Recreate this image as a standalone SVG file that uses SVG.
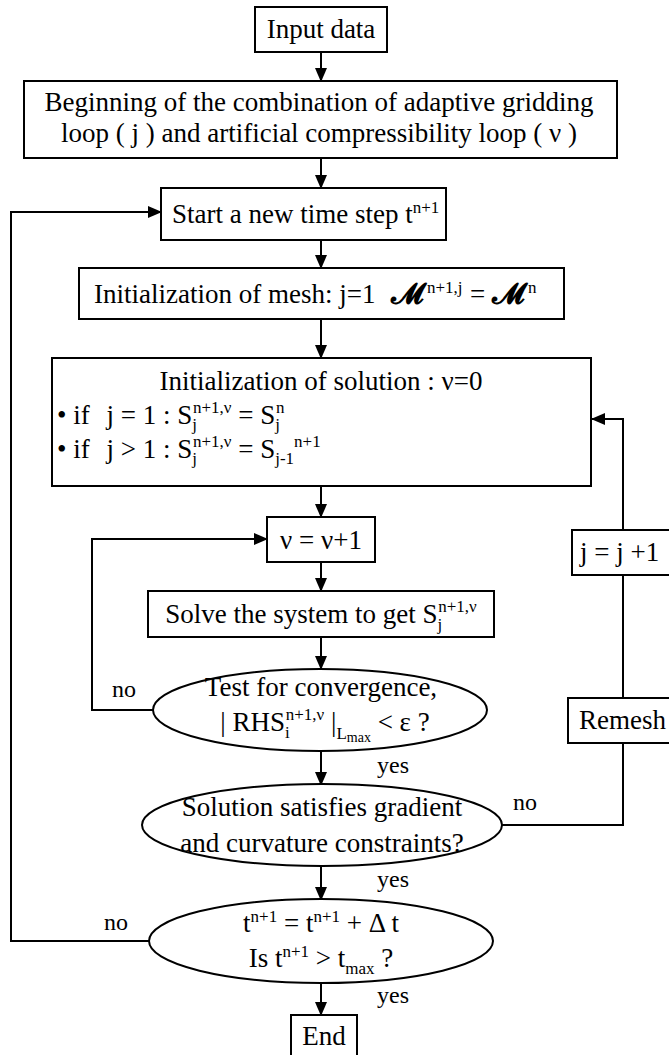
<svg xmlns="http://www.w3.org/2000/svg" width="669" height="1055" viewBox="0 0 669 1055">
<style>
text{font-family:"Liberation Serif","Times New Roman",serif;font-size:27px;fill:#000}
.m{text-anchor:middle}
.s{font-size:17px}
.l{font-size:24px}
.mm{font-family:"DejaVu Serif","DejaVu Sans","Noto Sans",serif;font-weight:bold;font-size:29px}
.box{fill:#fff;stroke:#000;stroke-width:2}
.c{fill:none;stroke:#000;stroke-width:2}
</style>
<defs>
<marker id="a" markerWidth="14" markerHeight="14" refX="13" refY="7" orient="auto" markerUnits="userSpaceOnUse"><path d="M0,1 L14,7 L0,13 Z" fill="#000"/></marker>
</defs>
<rect width="669" height="1055" fill="#fff"/>
<g id="connectors" class="c">
<path d="M321,52 V81" marker-end="url(#a)"/>
<path d="M321,158 V188" marker-end="url(#a)"/>
<path d="M321,240 V268" marker-end="url(#a)"/>
<path d="M321,319 V358" marker-end="url(#a)"/>
<path d="M321,486 V517" marker-end="url(#a)"/>
<path d="M321,562 V591" marker-end="url(#a)"/>
<path d="M321,637 V669" marker-end="url(#a)"/>
<path d="M321,751 V785" marker-end="url(#a)"/>
<path d="M321,866 V900" marker-end="url(#a)"/>
<path d="M321,983 V1015" marker-end="url(#a)"/>
<path d="M153,710 H92 V539 H267" marker-end="url(#a)"/>
<path d="M149,941 H11 V212 H161" marker-end="url(#a)"/>
<path d="M502,825 H623 V743"/>
<path d="M623,698 V575"/>
<path d="M623,530 V419 H592" marker-end="url(#a)"/>
</g>
<g id="labels">
<text class="l" x="112" y="697">no</text>
<text class="l" x="377" y="773">yes</text>
<text class="l" x="513" y="810">no</text>
<text class="l" x="377" y="887">yes</text>
<text class="l" x="104" y="930">no</text>
<text class="l" x="377" y="1003">yes</text>
</g>
<g id="input">
<rect class="box" x="255" y="7" width="132" height="45"/>
<text class="m" x="321" y="38">Input data</text>
</g>
<g id="beginning">
<rect class="box" x="24" y="81" width="593" height="77"/>
<text class="m" x="319" y="111">Beginning of the combination of adaptive gridding</text>
<text class="m" x="319" y="142">loop ( j ) and artificial compressibility loop ( ν )</text>
</g>
<g id="start">
<rect class="box" x="161" y="188" width="285" height="52"/>
<text x="172" y="223">Start a new time step t<tspan class="s" dy="-10">n+1</tspan></text>
</g>
<g id="initmesh">
<rect class="box" x="79" y="268" width="485" height="51"/>
<text x="94" y="303">Initialization of mesh: j=1 <tspan class="mm" x="391">𝓜</tspan><tspan class="s" x="427" dy="-10">n+1,j</tspan><tspan x="470" dy="10">=</tspan><tspan class="mm" x="492">𝓜</tspan><tspan class="s" x="528" dy="-10">n</tspan></text>
</g>
<g id="initsol">
<rect class="box" x="52" y="358" width="539" height="128"/>
<text class="m" x="321" y="390">Initialization of solution : ν=0</text>
<text x="57" y="424">• if <tspan dx="10">j = 1 : S</tspan><tspan class="s" dy="6">j</tspan><tspan class="s" dx="-4" dy="-17">n+1,ν</tspan><tspan dy="11"> = S</tspan><tspan class="s" dy="6">j</tspan><tspan class="s" dx="-4" dy="-17">n</tspan></text>
<text x="57" y="458">• if <tspan dx="10">j &gt; 1 : S</tspan><tspan class="s" dy="6">j</tspan><tspan class="s" dx="-4" dy="-17">n+1,ν</tspan><tspan dy="11"> = S</tspan><tspan class="s" dy="6">j-1</tspan><tspan class="s" dy="-17">n+1</tspan></text>
</g>
<g id="nu">
<rect class="box" x="267" y="517" width="108" height="45"/>
<text class="m" x="321" y="549">ν = ν+1</text>
</g>
<g id="solve">
<rect class="box" x="148" y="591" width="346" height="46"/>
<text class="m" x="321" y="623">Solve the system to get S<tspan class="s" dy="7">j</tspan><tspan class="s" dx="-4" dy="-18">n+1,ν</tspan></text>
</g>
<g id="test">
<ellipse class="box" cx="320" cy="710" rx="167" ry="41"/>
<text class="m" x="321" y="696">Test for convergence,</text>
<text class="m" x="325" y="731">| RHS<tspan class="s" dy="7">i</tspan><tspan class="s" dx="-4" dy="-18">n+1,ν</tspan><tspan dy="11"> |</tspan><tspan class="s" dy="8">L</tspan><tspan font-size="14" dy="3">max</tspan><tspan dy="-11"> &lt; ε ?</tspan></text>
</g>
<g id="gradient">
<ellipse class="box" cx="322" cy="825" rx="180" ry="41"/>
<text class="m" x="322" y="816">Solution satisfies gradient</text>
<text class="m" x="322" y="852">and curvature constraints?</text>
</g>
<g id="time">
<ellipse class="box" cx="321" cy="941" rx="172" ry="42"/>
<text class="m" x="321" y="932">t<tspan class="s" dy="-10">n+1</tspan><tspan dy="10"> = t</tspan><tspan class="s" dy="-10">n+1</tspan><tspan dy="10"> + Δ t</tspan></text>
<text class="m" x="321" y="967">Is t<tspan class="s" dy="-10">n+1</tspan><tspan dy="10"> &gt; t</tspan><tspan class="s" dy="7">max</tspan><tspan dy="-7"> ?</tspan></text>
</g>
<g id="end">
<rect class="box" x="291" y="1015" width="66" height="50"/>
<text class="m" x="324" y="1045">End</text>
</g>
<g id="jinc">
<rect class="box" x="572" y="530" width="100" height="45"/>
<text x="580" y="561">j = j +1</text>
</g>
<g id="remesh">
<rect class="box" x="568" y="698" width="104" height="45"/>
<text x="579" y="729">Remesh</text>
</g>
</svg>
